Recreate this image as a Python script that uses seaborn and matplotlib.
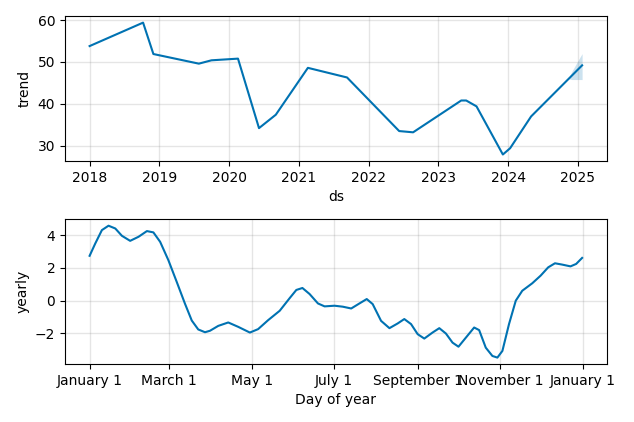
import numpy as np
import pandas as pd
import matplotlib
matplotlib.use("Agg")
import matplotlib.pyplot as plt
import matplotlib.dates as mdates
import seaborn as sns

# ---- trend component ----
trend_dates = ["2018-01-01", "2018-10-08", "2018-12-01", "2019-07-27", "2019-10-01",
               "2020-02-17", "2020-06-06", "2020-09-02", "2021-02-17", "2021-09-10",
               "2022-06-10", "2022-08-22", "2023-05-01", "2023-05-27", "2023-07-20",
               "2023-12-05", "2024-01-12", "2024-05-01", "2025-01-23"]
trend_values = [53.8, 59.4, 51.9, 49.6, 50.4,
                50.8, 34.2, 37.4, 48.6, 46.3,
                33.5, 33.2, 40.8, 40.8, 39.4,
                27.9, 29.4, 37.0, 49.2]

band_dates = ["2024-11-12", "2024-12-01", "2025-01-01", "2025-01-23"]
band_upper = [46.0, 47.8, 50.3, 52.0]
band_lower = [46.0, 45.8, 45.8, 45.8]

# ---- yearly component (day of year counted from Jan 1) ----
yearly_days = [0, 4.2, 9.1, 14.0, 19.0, 23.9, 30.0, 36.2, 42.4, 47.2,
               52.2, 58.3, 64.5, 70.6, 75.6, 80.4, 85.4, 89.1, 95.2, 102.6,
               110, 118.6, 124.7, 132.1, 140.7, 148.1, 153, 157.5, 162.8, 169,
               173.9, 181.3, 187.4, 193.6, 199.7, 205.1, 209.5, 215.7, 221.9, 228,
               232.9, 237.9, 242.8, 247.7, 253.8, 258.8, 263.7, 268.6, 273, 278.5,
               284.6, 288.3, 293.2, 298.1, 301.8, 305.5, 310.4, 315.4, 320.2, 327.6,
               333.8, 339.4, 344.4, 349.7, 355.9, 360.1, 364.5]
yearly_values = [2.75, 3.51, 4.33, 4.60, 4.43, 3.98, 3.67, 3.92, 4.27, 4.19,
                 3.61, 2.48, 1.14, -0.20, -1.23, -1.78, -1.95, -1.86, -1.56, -1.35,
                 -1.62, -1.97, -1.76, -1.21, -0.63, 0.15, 0.65, 0.77, 0.40, -0.18,
                 -0.36, -0.32, -0.38, -0.49, -0.18, 0.09, -0.22, -1.25, -1.70, -1.41,
                 -1.14, -1.45, -2.07, -2.34, -1.97, -1.70, -2.03, -2.59, -2.84, -2.28,
                 -1.66, -1.82, -2.90, -3.41, -3.51, -3.10, -1.45, -0.01, 0.60, 1.06,
                 1.53, 2.04, 2.29, 2.21, 2.10, 2.25, 2.62]

year_tick_dates = ["2017-01-01", "2017-03-01", "2017-05-01", "2017-07-01",
                   "2017-09-01", "2017-11-01", "2018-01-01"]
year_tick_labels = ["January 1", "March 1", "May 1", "July 1",
                    "September 1", "November 1", "January 1"]

LINE = "#0072B2"

trend_df = pd.DataFrame({"ds": pd.to_datetime(trend_dates), "trend": trend_values})
band_df = pd.DataFrame({"ds": pd.to_datetime(band_dates), "upper": band_upper, "lower": band_lower})
base = pd.Timestamp("2017-01-01")
yearly_df = pd.DataFrame({
    "day": base + pd.to_timedelta(np.array(yearly_days), unit="D"),
    "yearly": yearly_values,
})

fig, (ax1, ax2) = plt.subplots(2, 1, figsize=(6.34, 4.22), dpi=100)
fig.subplots_adjust(left=0.1025, right=0.957, top=0.962, bottom=0.137, hspace=0.4)

sns.lineplot(data=trend_df, x="ds", y="trend", color=LINE, lw=1.5, ax=ax1)
ax1.fill_between(band_df["ds"], band_df["lower"], band_df["upper"], color=LINE, alpha=0.2, lw=0)
ax1.grid(True, which="major", c="gray", ls="-", lw=1, alpha=0.2)
ax1.set_xlabel("ds")
ax1.set_ylabel("trend")
ax1.xaxis.set_major_locator(mdates.YearLocator())
ax1.xaxis.set_major_formatter(mdates.DateFormatter("%Y"))

sns.lineplot(data=yearly_df, x="day", y="yearly", color=LINE, lw=1.5, ax=ax2)
ax2.grid(True, which="major", c="gray", ls="-", lw=1, alpha=0.2)
ax2.set_xticks(pd.to_datetime(year_tick_dates))
ax2.set_xticklabels(year_tick_labels)
ax2.set_xlabel("Day of year")
ax2.set_ylabel("yearly")

fig.savefig("out.png", dpi=100)
